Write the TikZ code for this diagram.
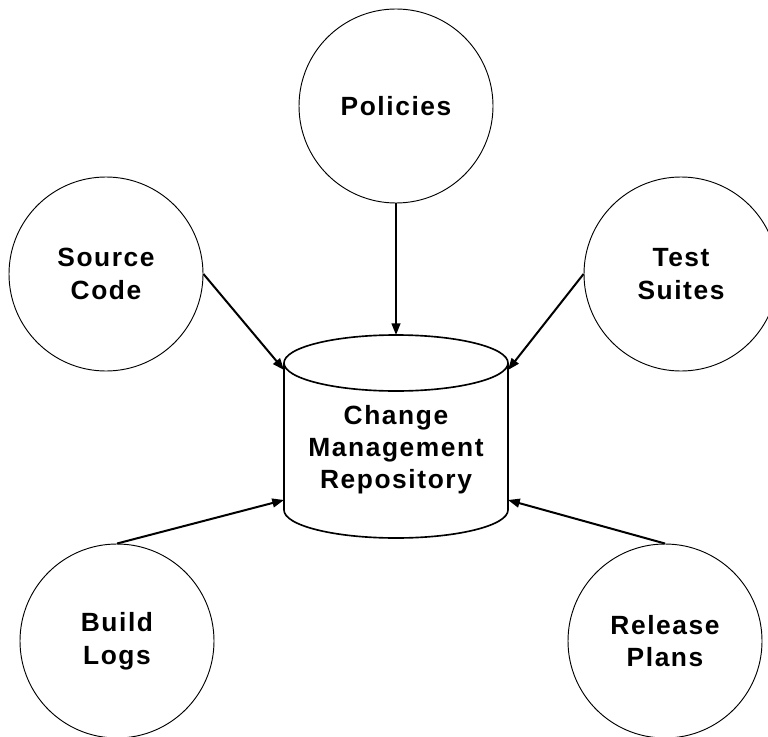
\documentclass[tikz,border=0pt]{standalone}
\usepackage{fontspec}
\setmainfont{Liberation Sans}[LetterSpace=6]
\usetikzlibrary{arrows.meta}

\begin{document}
\begin{tikzpicture}[x=0.03cm, y=-0.03cm, >={Triangle[length=10pt, width=7.5pt]},
        topic/.style={circle, draw=black, line width=0.8pt, minimum size=5.82cm, inner sep=0pt, align=center, font=\bfseries\fontsize{22.5}{28}\selectfont},
        store/.style={align=center, inner sep=0pt, font=\bfseries\fontsize{22.5}{27.3}\selectfont},
        feed/.style={->, line width=1.7pt},
        tank/.style={line width=1.4pt}]
        \useasboundingbox (0,0) rectangle (768,736);

        % the five inputs
        \node[topic] (pol) at (396,106) {Policies};
        \node[topic] (src) at (106,274) {Source\\Code};
        \node[topic] (tst) at (681,274) {Test\\Suites};
        \node[topic] (bld) at (117,641) {Build\\Logs};
        \node[topic] (rel) at (665,641) {Release\\Plans};

        % repository drum
        \draw[tank] (284,363) -- (284,510) arc[start angle=180, end angle=0, x radius=112, y radius=28] -- (508,363);
        \draw[tank] (396,363) ellipse [x radius=112, y radius=28];
        \node[store] (repo) at (396,450) {Change\\Management\\Repository};

        \coordinate (top) at (396,335);
        \coordinate (nw) at (284,370);
        \coordinate (ne) at (508,370);
        \coordinate (sw) at (284,500);
        \coordinate (se) at (508,500);

        \path (pol) edge [feed] (top)
            (src.east) edge [feed] (nw)
            (tst.west) edge [feed] (ne)
            (bld.north) edge [feed] (sw)
            (rel.north) edge [feed] (se);
\end{tikzpicture}
\end{document}
